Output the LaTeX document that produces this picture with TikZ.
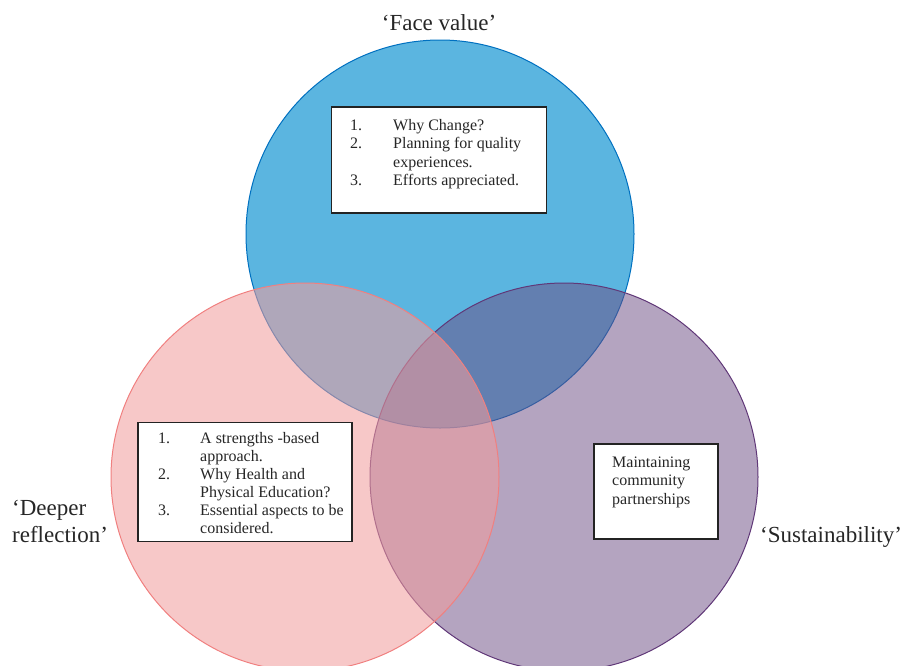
\documentclass[tikz,border=0pt]{standalone}
\usepackage{fontspec}
\setmainfont{Liberation Serif}
\definecolor{blueF}{RGB}{91,181,224}
\definecolor{blueD}{RGB}{0,112,192}
\definecolor{pinkF}{RGB}{241,157,157}
\definecolor{pinkD}{RGB}{240,128,128}
\definecolor{purpF}{RGB}{108,76,131}
\definecolor{purpD}{RGB}{96,56,120}
\definecolor{boxD}{RGB}{35,35,35}
\tikzset{
  venn/.style={circle, minimum size=388pt, inner sep=0pt, line width=1pt},
  txtbox/.style={draw=boxD, fill=white, line width=1.2pt, inner sep=0pt},
  txt/.style={anchor=base west, inner sep=0pt, font=\fontsize{16}{18}\selectfont, text=black!85},
  lbl/.style={anchor=base west, inner sep=0pt, font=\fontsize{23}{27}\selectfont, text=black!85}
}
\begin{document}
\begin{tikzpicture}[x=1pt,y=-1pt]
\useasboundingbox (0,0) rectangle (905,665);
\clip (0,0) rectangle (905,665);
% circles
\node[venn, fill=blueF, draw=blueD] (cblue) at (440,234) {};
\node[venn, fill=purpF, fill opacity=0.51, draw=purpD] (cpurp) at (564,477) {};
\node[venn, fill=pinkF, fill opacity=0.56, draw=pinkD] (cpink) at (305,477) {};
% boxes
\node[txtbox, minimum width=215pt, minimum height=106pt] (btop) at (439,160) {};
\node[txtbox, minimum width=214pt, minimum height=119pt] (bleft) at (245,482) {};
\node[txtbox, minimum width=124pt, minimum height=95pt] (bright) at (656,491.5) {};
% top box text
\node[txt] (t1n) at (350,130) {1.};
\node[txt] (t1) at (393,130) {Why Change?};
\node[txt] (t2n) at (350,148.5) {2.};
\node[txt] (t2) at (393,148.5) {Planning for quality};
\node[txt] (t2b) at (393,167) {experiences.};
\node[txt] (t3n) at (350,185.5) {3.};
\node[txt] (t3) at (393,185.5) {Efforts appreciated.};
% left box text
\node[txt] (l1n) at (158,443) {1.};
\node[txt] (l1) at (200,443) {A strengths -based};
\node[txt] (l1b) at (200,461) {approach.};
\node[txt] (l2n) at (158,479) {2.};
\node[txt] (l2) at (200,479) {Why Health and};
\node[txt] (l2b) at (200,497) {Physical Education?};
\node[txt] (l3n) at (158,515) {3.};
\node[txt] (l3) at (200,515) {Essential aspects to be};
\node[txt] (l3b) at (200,533) {considered.};
% right box text
\node[txt] (r1) at (612,467) {Maintaining};
\node[txt] (r2) at (612,485.5) {community};
\node[txt] (r3) at (612,504) {partnerships};
% labels
\node[lbl, anchor=base] (face) at (439,30) {‘Face value’};
\node[lbl] (deep1) at (12,515) {‘Deeper};
\node[lbl] (deep2) at (12,542) {reflection’};
\node[lbl] (sust) at (760,542) {‘Sustainability’};
\end{tikzpicture}
\end{document}
